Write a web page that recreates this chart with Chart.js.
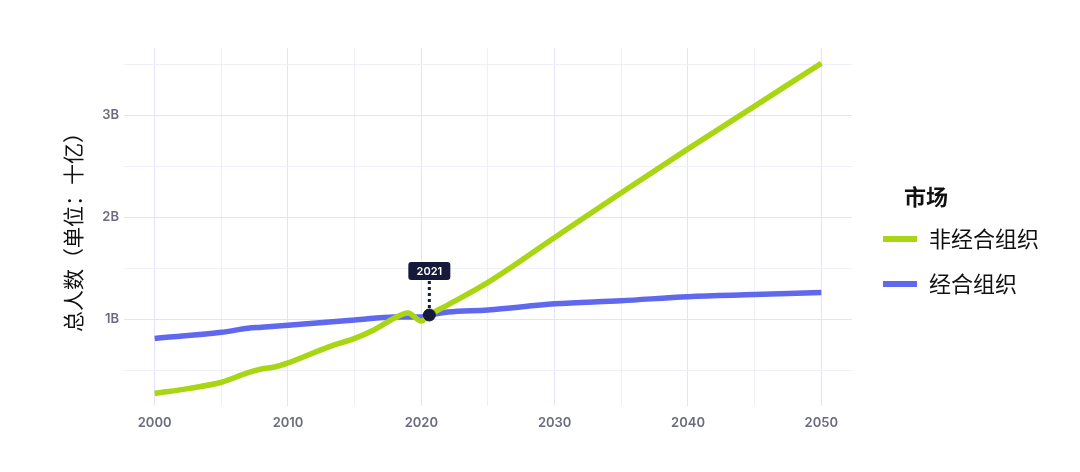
<!DOCTYPE html>
<html><head><meta charset="utf-8">
<script src="https://cdn.jsdelivr.net/npm/chart.js@4.4.1/dist/chart.umd.min.js"></script>
<style>html,body{margin:0;padding:0;background:#fff;}#wrap{width:1080px;height:472px;}</style>
</head><body><div id="wrap"><canvas id="c" width="1080" height="472"></canvas></div>
<script>
const years = [2000,2002.6,2005,2006.9,2008,2009,2010,2013.1,2015,2016.4,2018,2019,2020,2020.6,2022,2025,2030,2035,2040,2045,2050];
const nonOecd = [0.27,0.32,0.38,0.47,0.51,0.53,0.57,0.73,0.81,0.89,1.01,1.06,0.98,1.04,1.14,1.36,1.80,2.24,2.67,3.09,3.51];
const oecdYears = [2000,2005,2007,2008,2010,2015,2018,2020,2020.6,2022,2025,2030,2035,2040,2045,2050];
const oecd = [0.81,0.87,0.91,0.92,0.94,0.99,1.02,1.02,1.04,1.07,1.09,1.15,1.18,1.22,1.24,1.26];
const seriesNames = ['非经合组织','经合组织'];
const legendTitle = '市场';
const yTitle = '总人数（单位：十亿）';
const highlightYear = [2020.6];
const highlightValue = [1.04];
const highlightLabel = ['2021'];
const yTicks = [0.5,1,1.5,2,2.5,3,3.5];
const xTicks = [2000,2005,2010,2015,2020,2025,2030,2035,2040,2045,2050];

const GREEN = '#a8d612', BLUE = '#6068ee', NAVY = '#161a3a';
const CJK = '"Noto Sans CJK SC", "Noto Sans", sans-serif';

const overlay = {
  id:'overlay',
  afterDatasetsDraw(chart){
    const ctx = chart.ctx, xs = chart.scales.x, ys = chart.scales.y;
    const px = xs.getPixelForValue(highlightYear[0]);
    const py = ys.getPixelForValue(highlightValue[0]);
    ctx.save();
    const bw = 42, bh = 18, by = 262;
    ctx.strokeStyle = NAVY; ctx.lineWidth = 3; ctx.setLineDash([3,3]);
    ctx.beginPath(); ctx.moveTo(px, by+bh+1); ctx.lineTo(px, py-5); ctx.stroke();
    ctx.setLineDash([]);
    ctx.fillStyle = NAVY;
    ctx.beginPath(); ctx.roundRect(px-bw/2, by, bw, bh, 3); ctx.fill();
    ctx.fillStyle = '#fff'; ctx.font = '600 11px Inter, Roboto, sans-serif';
    ctx.textAlign='center'; ctx.textBaseline='middle';
    ctx.fillText(highlightLabel[0], px, by+bh/2+0.5);
    ctx.restore();
  },
  afterDraw(chart){
    const ctx = chart.ctx;
    ctx.save();
    ctx.fillStyle = '#111'; ctx.textBaseline='middle'; ctx.textAlign='left';
    ctx.font = 'bold 22px ' + CJK;
    ctx.fillText(legendTitle, 904, 197);
    const colors = [GREEN, BLUE];
    const ys = [239, 284];
    ctx.font = '22px ' + CJK;
    for (let i=0;i<2;i++){
      ctx.strokeStyle = colors[i]; ctx.lineWidth = 6; ctx.lineCap='butt';
      ctx.beginPath(); ctx.moveTo(883, ys[i]); ctx.lineTo(917, ys[i]); ctx.stroke();
      ctx.fillStyle = '#111';
      ctx.fillText(seriesNames[i], 929, ys[i]);
    }
    ctx.restore();
  }
};

function gridCol(v, major){ return major ? '#e3e4f5' : '#eeeffa'; }

new Chart(document.getElementById('c'), {
  type:'line',
  data:{
    datasets:[
      {label:seriesNames[0], data: years.map((x,i)=>({x, y:nonOecd[i]})), borderColor:GREEN, borderWidth:5.5, pointRadius:0, cubicInterpolationMode:'monotone', order:2},
      {label:seriesNames[1], data: oecdYears.map((x,i)=>({x, y:oecd[i]})), borderColor:BLUE, borderWidth:5.5, pointRadius:0, cubicInterpolationMode:'monotone', order:3},
      {label:'highlight', data: highlightYear.map((x,i)=>({x, y:highlightValue[i]})), showLine:false, pointRadius:6, pointBackgroundColor:NAVY, pointBorderColor:NAVY, order:1}
    ]
  },
  options:{
    responsive:false, animation:false, devicePixelRatio:1,
    layout:{padding:{top:48, right:228, left:0, bottom:0}},
    plugins:{legend:{display:false}, tooltip:{enabled:false}},
    scales:{
      x:{type:'linear', min:1997.7, max:2052.3,
        afterBuildTicks(s){ s.ticks = xTicks.map(v=>({value:v})); },
        afterFit(s){ s.height = 66; },
        border:{display:false},
        grid:{drawTicks:false, color:(c)=> gridCol(c.tick && c.tick.value, c.tick && c.tick.value%10===0), lineWidth:1},
        ticks:{padding:9, autoSkip:false, maxRotation:0, color:'#6b6b80', font:{family:'Inter, Roboto, sans-serif', size:13, weight:'600'},
          callback:(v)=> v%10===0 ? String(v) : ''}
      },
      y:{type:'linear', min:0.147, max:3.66,
        afterBuildTicks(s){ s.ticks = yTicks.map(v=>({value:v})); },
        afterFit(s){ s.width = 124; },
        border:{display:false},
        grid:{drawTicks:false, color:(c)=> gridCol(c.tick && c.tick.value, c.tick && Number.isInteger(c.tick.value)), lineWidth:1},
        ticks:{padding:5, autoSkip:false, color:'#6b6b80', font:{family:'Inter, Roboto, sans-serif', size:13, weight:'600'},
          callback:(v)=> Number.isInteger(v) ? v+'B' : ''},
        title:{display:true, text:yTitle, color:'#111', font:{family:CJK, size:21}, padding:{top:60, bottom:0}}
      }
    }
  },
  plugins:[overlay]
});
</script></body></html>
